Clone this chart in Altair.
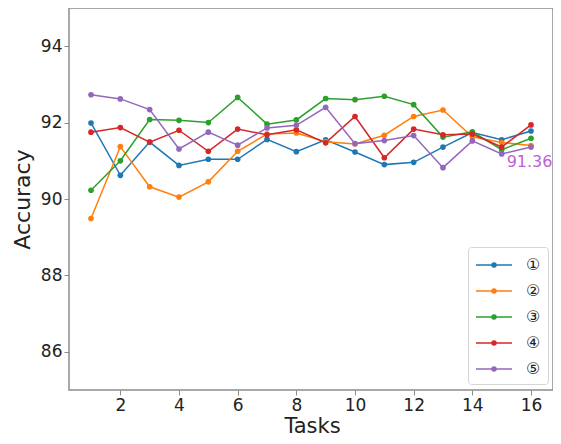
import altair as alt
import pandas as pd

tasks = list(range(1, 17))
series_names = ["①", "②", "③", "④", "⑤"]
series_colors = ["#1f77b4", "#ff7f0e", "#2ca02c", "#d62728", "#9467bd"]

s1 = [91.99, 90.62, 91.49, 90.88, 91.04, 91.04, 91.56, 91.24, 91.55, 91.23, 90.90, 90.96, 91.36, 91.74, 91.55, 91.78]
s2 = [89.49, 91.37, 90.32, 90.05, 90.45, 91.25, 91.70, 91.73, 91.50, 91.44, 91.67, 92.16, 92.33, 91.63, 91.48, 91.40]
s3 = [90.23, 91.00, 92.08, 92.06, 92.00, 92.66, 91.96, 92.07, 92.63, 92.60, 92.69, 92.47, 91.62, 91.76, 91.29, 91.59]
s4 = [91.75, 91.87, 91.49, 91.80, 91.25, 91.83, 91.68, 91.81, 91.47, 92.16, 91.08, 91.83, 91.68, 91.70, 91.36, 91.94]
s5 = [92.73, 92.62, 92.34, 91.31, 91.75, 91.41, 91.86, 91.93, 92.40, 91.45, 91.53, 91.66, 90.82, 91.52, 91.18, 91.36]

x_ticks = [2, 4, 6, 8, 10, 12, 14, 16]
y_ticks = [86, 88, 90, 92, 94]

annot_task = [15]
annot_value = [91.36]
annot_text = ["91.36"]

rows = []
for name, vals in zip(series_names, [s1, s2, s3, s4, s5]):
    for t, v in zip(tasks, vals):
        rows.append({"task": t, "acc": v, "method": name})
df = pd.DataFrame(rows)
df_annot = pd.DataFrame({"task": annot_task, "acc": annot_value, "label": annot_text})

FONT = "DejaVu Sans"

xscale = alt.Scale(domain=[0.25, 16.75], nice=False, zero=False)
yscale = alt.Scale(domain=[85, 95], nice=False, zero=False)


def ring(cx, r):
    return f"M{cx + r:.3f},0A{r},{r} 0 1,1 {cx - r:.3f},0A{r},{r} 0 1,1 {cx + r:.3f},0"


# legend glyph: a line with a solid dot (concentric rings so the stroke fills the dot)
legend_path = "M-1,0L2.6,0" + "".join(ring(0.8, r) for r in (0.2, 0.13, 0.06))

legend = alt.Legend(
    title=None,
    orient="none",
    legendX=399,
    legendY=239,
    symbolType=legend_path,
    symbolSize=400,
    symbolStrokeWidth=1.5,
    symbolOpacity=1,
    labelFont=FONT,
    labelFontSize=16,
    labelColor="#222222",
    labelOffset=29,
    rowPadding=7,
    padding=7,
    strokeColor="#d5d5d5",
    fillColor="white",
    cornerRadius=3,
)

cscale = alt.Scale(domain=series_names, range=series_colors)

x = alt.X(
    "task:Q",
    scale=xscale,
    axis=alt.Axis(
        values=x_ticks,
        title="Tasks",
        titleFontSize=21,
        titleX=243,
        titleY=46,
        titleBaseline="bottom",
        titleAlign="center",
    ),
)
y = alt.Y(
    "acc:Q",
    scale=yscale,
    axis=alt.Axis(
        values=y_ticks,
        title="Accuracy",
        titleFontSize=22,
        titleX=-40,
        titleBaseline="alphabetic",
    ),
)

lines = alt.Chart(df).mark_line(strokeWidth=1.5).encode(
    x=x, y=y, color=alt.Color("method:N", scale=cscale, sort=series_names, legend=legend)
)
points = alt.Chart(df).mark_circle(size=32, opacity=1).encode(
    x=x, y=y, color=alt.Color("method:N", scale=cscale, sort=series_names, legend=legend)
)

annot = alt.Chart(df_annot).mark_text(
    align="left", baseline="middle", dx=5, dy=15, fontSize=16, font=FONT, color="#c061d4"
).encode(x=alt.X("task:Q", scale=xscale), y=alt.Y("acc:Q", scale=yscale), text="label:N")

chart = (
    alt.layer(lines, points, annot)
    .properties(
        width=484,
        height=382,
        autosize=alt.AutoSizeParams(type="none"),
        padding={"left": 61, "top": 0, "right": 0, "bottom": 46},
    )
    .configure_view(stroke="#8c8c8c", strokeWidth=1.5)
    .configure_axis(
        grid=False,
        domain=False,
        labelFont=FONT,
        titleFont=FONT,
        labelFontSize=17,
        labelColor="#222222",
        titleColor="#222222",
        titleFontWeight="normal",
        tickColor="#8c8c8c",
        tickSize=5,
        tickWidth=1,
        labelPadding=2,
    )
)

chart.save("out.html", embed_options={"renderer": "svg", "actions": False})
